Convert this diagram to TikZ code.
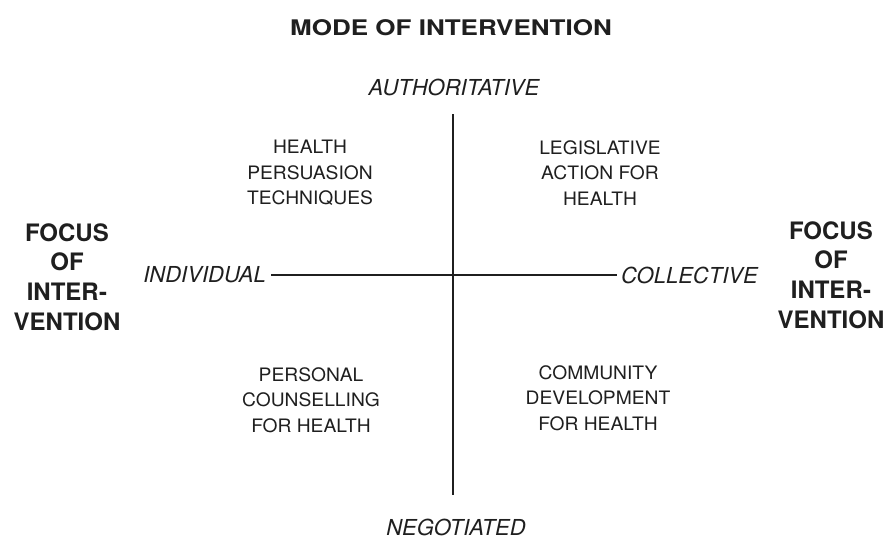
\documentclass[tikz,border=0pt]{standalone}
\usepackage{fontspec}
\setmainfont{TeX Gyre Heros}
\begin{document}
\begin{tikzpicture}[x=1pt,y=-1pt,
  ink/.style={color=black!88},
  title/.style={ink,font=\fontsize{21.5}{26}\selectfont\bfseries\addfontfeatures{FakeStretch=1.21}},
  pole/.style={ink,inner sep=1pt,font=\fontsize{22}{26}\selectfont\itshape},
  quad/.style={ink,align=center,font=\fontsize{18.5}{25.5}\selectfont\addfontfeatures{FakeStretch=1.04}},
  focus/.style={ink,align=center,font=\fontsize{24}{29.8}\selectfont\bfseries},
  axis/.style={draw=black!88,line width=1.4pt}]
\useasboundingbox (0,0) rectangle (891,539);
\fill[white] (0,0) rectangle (891,539);

% heading
\node[title] (mode) at (451,28) {MODE OF INTERVENTION};

% axis end labels
\node[pole] (auth) at (454,87) {AUTHORITATIVE};
\node[pole] (neg) at (456,527) {NEGOTIATED};
\node[pole,anchor=east] (ind) at (267,275) {INDIVIDUAL};
\node[pole,anchor=west] (coll) at (620,275) {COLLECTIVE};

% axes
\coordinate (top) at (453,114);
\coordinate (bot) at (453,495);
\draw[axis] (top) -- (bot);
\draw[axis,shorten <=4pt,shorten >=3pt] (ind.east) -- (coll.west);

% quadrants
\node[quad] (hp) at (310,173) {HEALTH\\PERSUASION\\TECHNIQUES};
\node[quad] (la) at (600,173) {LEGISLATIVE\\ACTION FOR\\HEALTH};
\node[quad] (pc) at (311,400) {PERSONAL\\COUNSELLING\\FOR HEALTH};
\node[quad] (cd) at (598,398) {COMMUNITY\\DEVELOPMENT\\FOR HEALTH};

% side titles
\node[focus] (fl) at (67,277) {FOCUS\\OF\\INTER-\\VENTION};
\node[focus] (fr) at (831,275) {FOCUS\\OF\\INTER-\\VENTION};
\end{tikzpicture}
\end{document}
